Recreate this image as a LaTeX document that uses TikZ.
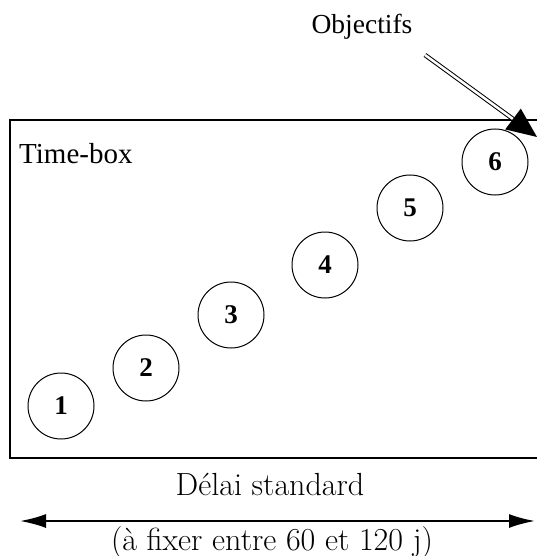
\documentclass[tikz,border=0pt]{standalone}
\usepackage{fontspec}
\setmainfont{Liberation Serif}
\newfontfamily\lmfont{Latin Modern Roman}
\usetikzlibrary{arrows.meta,calc}
\begin{document}
\begin{tikzpicture}[x=1pt,y=-1pt,
  num/.style={circle,draw,line width=1pt,minimum size=66pt,inner sep=0pt,font=\fontsize{27}{27}\selectfont\bfseries},
  lbl/.style={inner sep=0pt,anchor=base,font=\fontsize{29}{29}\selectfont},
  bottomlbl/.style={inner sep=0pt,anchor=base,font=\lmfont\fontsize{32}{32}\selectfont}]
\useasboundingbox (0,0) rectangle (537,556);
% time box (right edge cut off)
\draw[line width=2pt] (545,120) -- (10,120) -- (10,458) -- (545,458);
\node[lbl,anchor=base west] (tb) at (19,164) {Time-box};
\node[num] (c1) at (61,406) {1};
\node[num] (c2) at (146,368) {2};
\node[num] (c3) at (231,315) {3};
\node[num] (c4) at (325,265) {4};
\node[num] (c5) at (410,208) {5};
\node[num] (c6) at (495,162) {6};
% objectifs
\node[lbl,font=\fontsize{27.5}{27.5}\selectfont] (obj) at (362,34) {Objectifs};
\coordinate (os) at (425,55);
\coordinate (ob) at (513,119);
\coordinate (ot) at (537,137);
\draw[double,double distance=2.5pt,line width=1pt] (os) -- (ob);
\fill ($(ob)!13pt!90:(ot)$) -- (ot) -- ($(ob)!13pt!-90:(ot)$) -- cycle;
% bottom
\node[bottomlbl] (dl) at (270,495) {Délai standard};
\coordinate (al) at (20,521);
\coordinate (ar) at (535,521);
\draw[line width=2pt,{Latex[length=26pt,width=14pt]}-{Latex[length=26pt,width=14pt]}] (al) -- (ar);
\node[bottomlbl] (fx) at (272,550) {(à fixer entre 60 et 120 j)};
\end{tikzpicture}
\end{document}
